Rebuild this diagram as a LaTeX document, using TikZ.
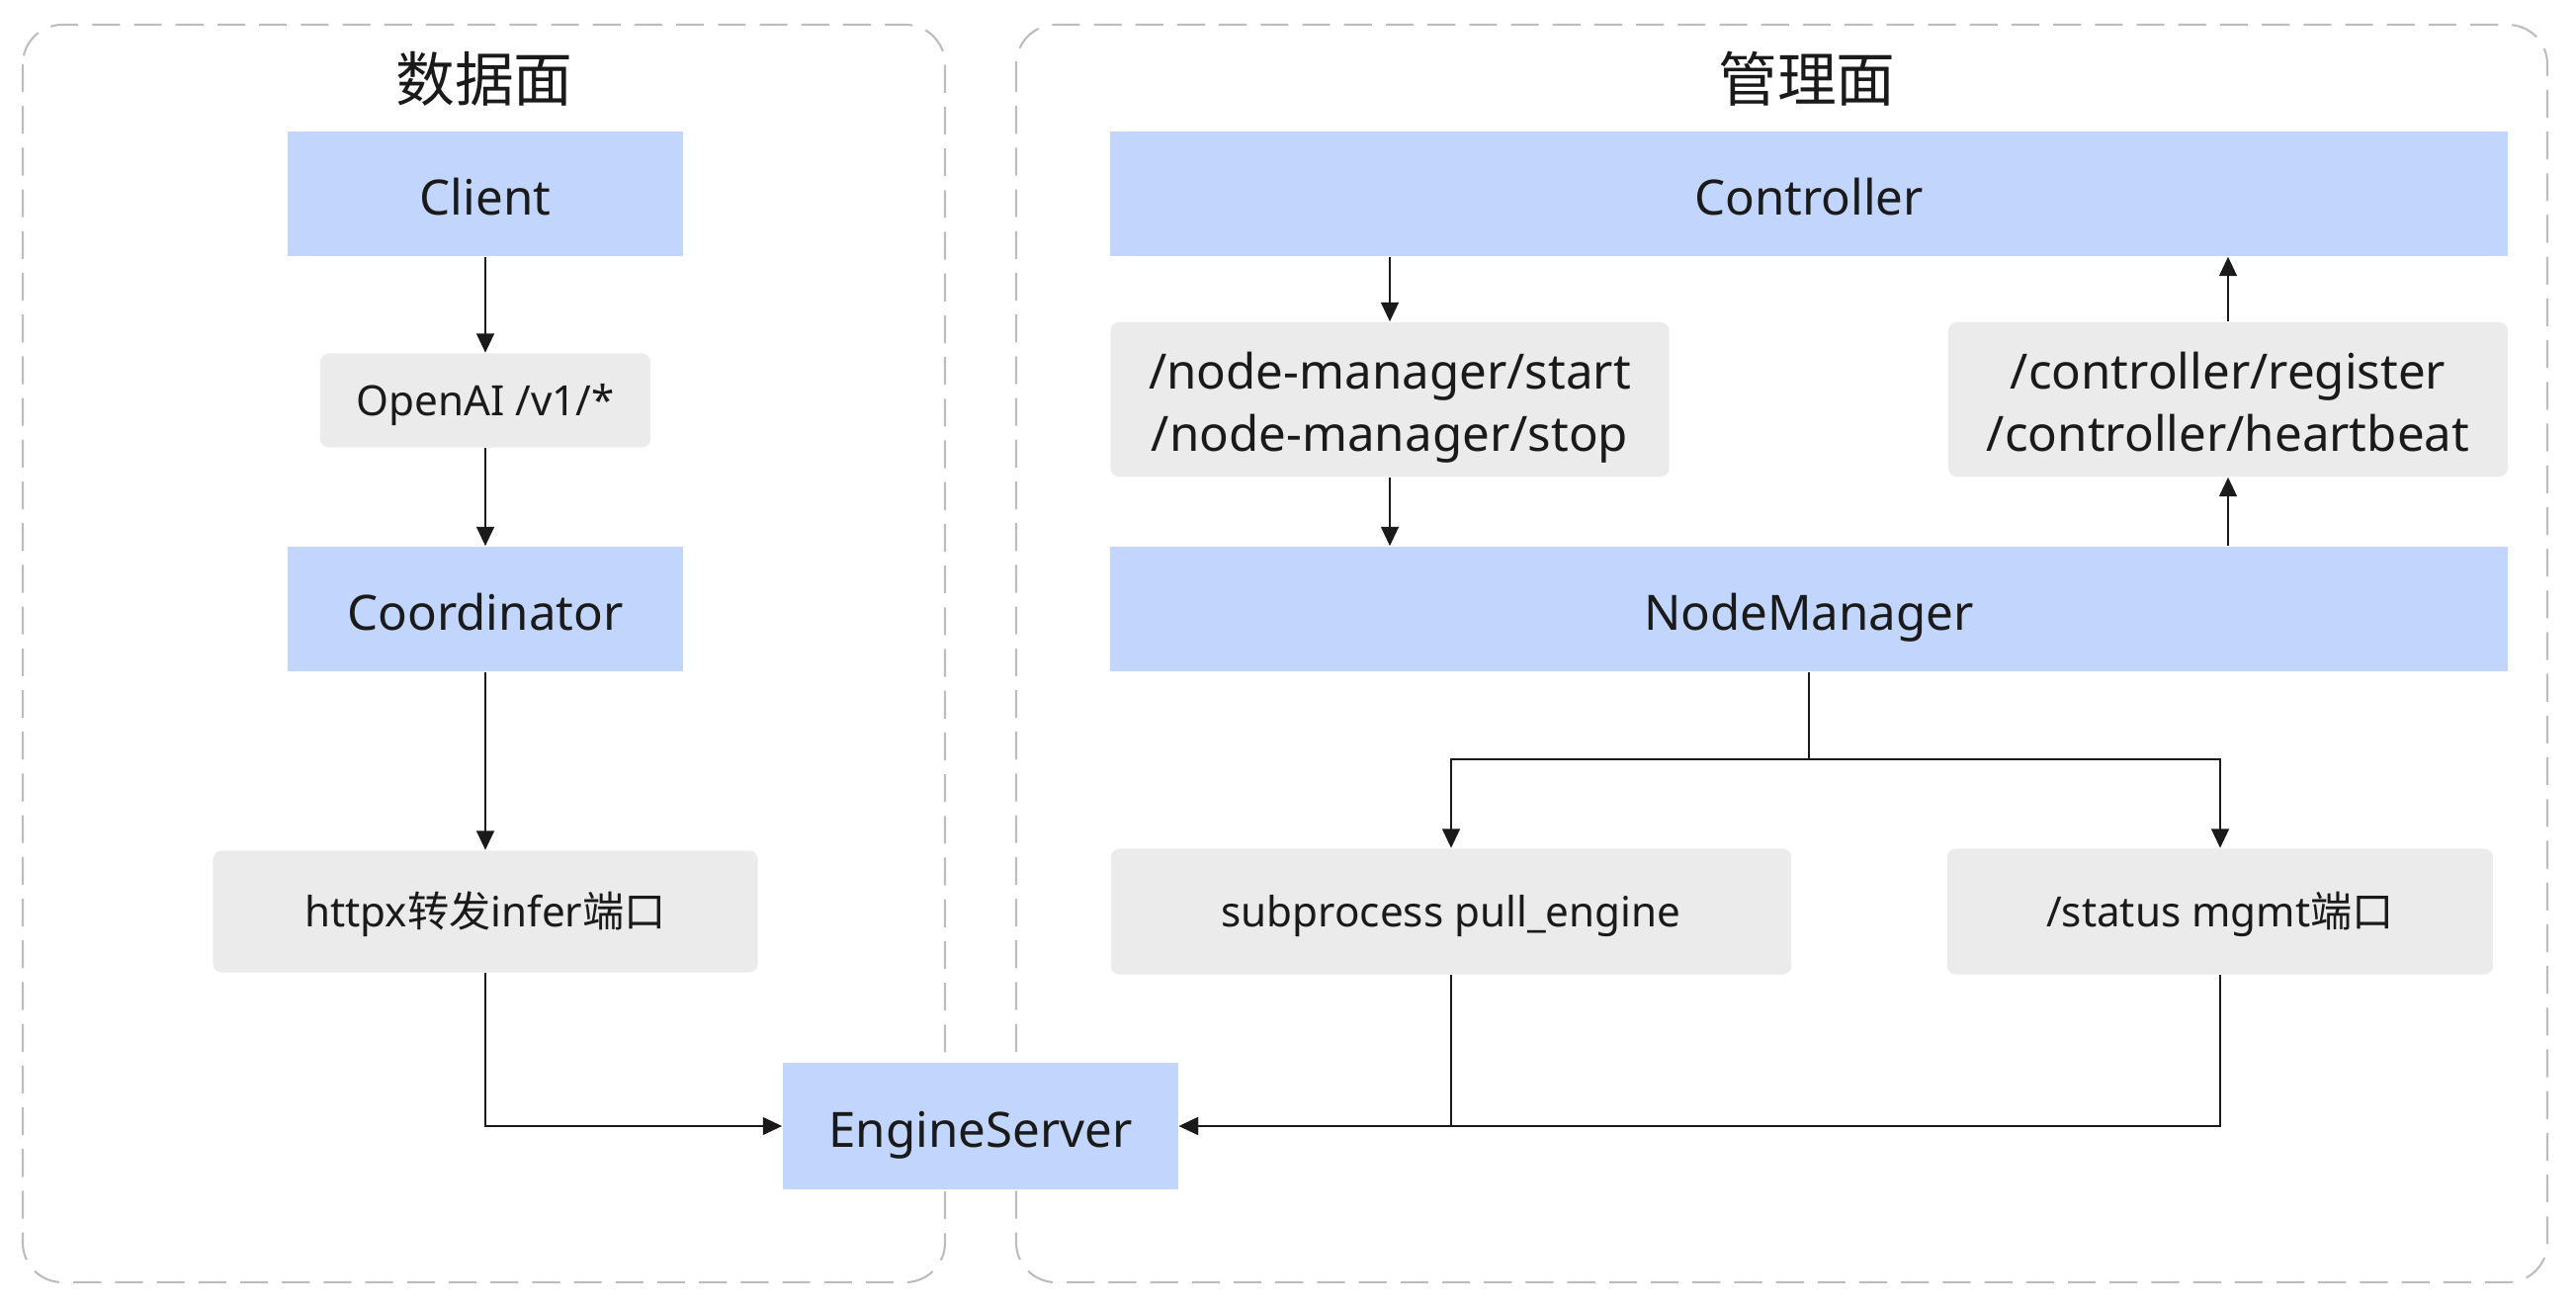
\documentclass[tikz,border=0pt]{standalone}
\usepackage{fontspec}
\setmainfont{Noto Sans}
\newfontfamily\cjk{Noto Sans CJK SC}
\usetikzlibrary{arrows.meta,positioning}
\definecolor{boxblue}{HTML}{C2D5FC}
\definecolor{boxgray}{HTML}{EBEBEB}
\definecolor{panelgray}{HTML}{BDBDBD}
\definecolor{ink}{HTML}{1A1A1A}

\begin{document}
\begin{tikzpicture}[x=0.01cm, y=-0.01cm, text=ink,
  comp/.style={fill=boxblue, minimum height=1.26cm, inner sep=0pt, text height=12pt, text depth=0pt, font=\fontsize{14}{17}\selectfont},
  api/.style={fill=boxgray, rounded corners=2.5pt, inner sep=0pt, text height=9pt, text depth=0pt, font=\fontsize{12}{15}\selectfont},
  apibig/.style={fill=boxgray, rounded corners=2.5pt, inner sep=0pt, align=center, font=\fontsize{14}{18}\selectfont},
  plane/.style={draw=panelgray, line width=0.6pt, dash pattern=on 8pt off 4pt, rounded corners=0.4cm},
  ttl/.style={font=\cjk\fontsize{17}{20}\selectfont},
  arr/.style={-{Triangle[length=5.5pt, width=5pt]}, line width=0.75pt, draw=ink}]
\useasboundingbox (0,0) rectangle (2606,1322);
% the two planes
\draw[plane] (23,25) rectangle (956,1297);
\draw[plane] (1028,25) rectangle (2577,1297);
\node[ttl] (dtitle) at (490,80) {数据面};
\node[ttl] (mtitle) at (1828,80) {管理面};
% data plane
\node[comp, minimum width=3.99cm] (client) at (491,196) {Client};
\node[api, minimum width=3.34cm, minimum height=0.95cm] (openai) at (491,405) {OpenAI /v1/*};
\node[comp, minimum width=3.99cm] (coord) at (491,616) {Coordinator};
\node[api, minimum width=5.51cm, minimum height=1.23cm] (httpx) at (491,922) {httpx{\cjk 转发}infer{\cjk 端口}};
\node[comp, minimum width=4.0cm, minimum height=1.27cm] (engine) at (992,1139) {EngineServer};
\draw[arr] (client) -- (openai);
\draw[arr] (openai) -- (coord);
\draw[arr] (coord) -- (httpx);
\draw[arr] (httpx) |- (engine);
% management plane
\node[comp, minimum width=14.13cm] (ctrl) at (1830,196) {Controller};
\node[apibig, minimum width=5.65cm, minimum height=1.56cm] (nmapi) at (1406,404)
  {\rule{0pt}{16.6pt}/node-manager/start\\/node-manager/stop\rule[-4.6pt]{0pt}{0pt}};
\node[apibig, minimum width=5.66cm, minimum height=1.56cm] (ctrlapi) at (2254,404)
  {\rule{0pt}{16.6pt}/controller/register\\/controller/heartbeat\rule[-4.6pt]{0pt}{0pt}};
\node[comp, minimum width=14.13cm] (nodemgr) at (1830,616) {NodeManager};
\node[api, minimum width=6.88cm, minimum height=1.27cm] (subproc) at (1468,922) {subprocess pull\_engine};
\node[api, minimum width=5.52cm, minimum height=1.27cm] (status) at (2246,922) {/status mgmt{\cjk 端口}};
\coordinate (split) at (1830,768);
\draw[arr] (ctrl.south -| nmapi) -- (nmapi);
\draw[arr] (nmapi) -- (nmapi |- nodemgr.north);
\draw[arr] (nodemgr.north -| ctrlapi) -- (ctrlapi);
\draw[arr] (ctrlapi) -- (ctrlapi |- ctrl.south);
\draw[line width=0.75pt, draw=ink] (nodemgr) -- (split);
\draw[arr] (split) -| (subproc);
\draw[arr] (split) -| (status);
% back to the engine
\draw[arr] (subproc) |- (engine);
\draw[arr] (status) |- (engine);
\end{tikzpicture}
\end{document}
